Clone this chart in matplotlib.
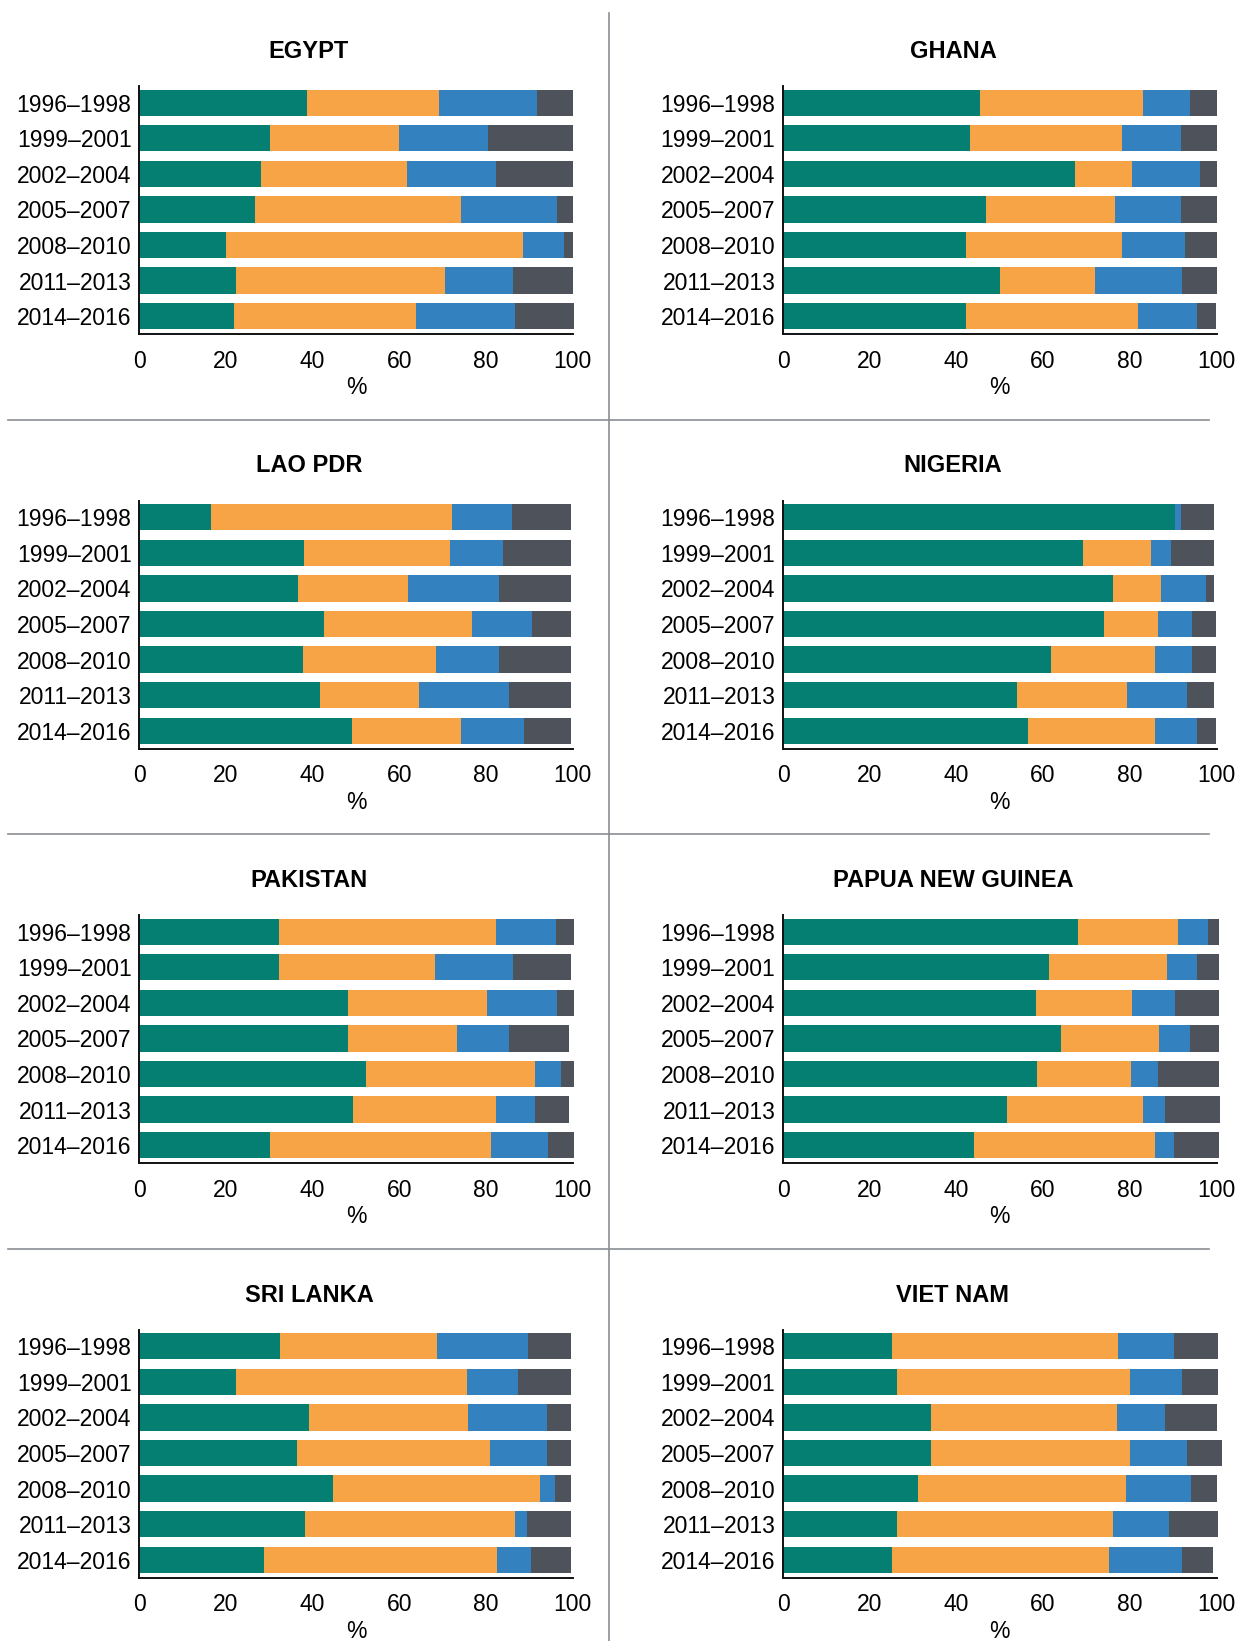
import matplotlib
matplotlib.use("Agg")
import matplotlib.pyplot as plt
from matplotlib import font_manager
from matplotlib.lines import Line2D

# ---------------- data ----------------
periods = ["1996–1998", "1999–2001", "2002–2004", "2005–2007",
           "2008–2010", "2011–2013", "2014–2016"]
countries = ["EGYPT", "GHANA", "LAO PDR", "NIGERIA",
             "PAKISTAN", "PAPUA NEW GUINEA", "SRI LANKA", "VIET NAM"]
x_ticks = [0, 20, 40, 60, 80, 100]

# each country: four stacked segments (teal, orange, blue, dark grey), % per period
egypt = [[38.7, 30.2, 28.1, 26.7, 20.1, 22.4, 21.9],
         [30.5, 29.7, 33.7, 47.6, 68.5, 48.1, 42.0],
         [22.6, 20.6, 20.5, 22.1, 9.4, 15.7, 22.8],
         [8.2, 19.5, 17.7, 3.6, 2.0, 13.8, 13.6]]
ghana = [[45.5, 43.2, 67.4, 46.9, 42.3, 50.0, 42.1],
         [37.6, 35.1, 13.2, 29.7, 36.0, 22.0, 39.9],
         [10.9, 13.6, 15.5, 15.3, 14.5, 20.1, 13.4],
         [6.0, 8.1, 3.9, 8.1, 7.2, 7.9, 4.4]]
lao = [[16.6, 38.0, 36.7, 42.6, 37.8, 41.7, 49.1],
       [55.6, 33.7, 25.3, 34.2, 30.7, 22.9, 25.2],
       [13.8, 12.2, 21.0, 13.8, 14.5, 20.7, 14.5],
       [13.6, 15.7, 16.6, 9.0, 16.6, 14.3, 10.8]]
nigeria = [[90.5, 69.2, 76.1, 74.1, 61.8, 53.9, 56.5],
           [0.0, 15.7, 11.2, 12.5, 23.9, 25.5, 29.2],
           [1.4, 4.5, 10.2, 7.8, 8.7, 13.9, 9.9],
           [7.6, 10.1, 2.0, 5.4, 5.4, 6.2, 4.2]]
pakistan = [[32.3, 32.3, 48.2, 48.2, 52.4, 49.4, 30.2],
            [50.0, 35.9, 32.1, 25.2, 38.9, 32.9, 51.0],
            [13.9, 18.0, 16.1, 11.9, 6.1, 9.0, 13.1],
            [4.2, 13.3, 4.0, 13.9, 3.0, 7.9, 6.1]]
png = [[68.0, 61.3, 58.3, 64.1, 58.6, 51.6, 44.0],
       [23.2, 27.2, 22.3, 22.7, 21.7, 31.5, 41.7],
       [6.9, 6.9, 9.9, 7.2, 6.3, 5.1, 4.5],
       [2.4, 5.1, 10.0, 6.5, 13.9, 12.5, 10.3]]
sri_lanka = [[32.5, 22.4, 39.1, 36.4, 44.7, 38.2, 28.8],
             [36.2, 53.2, 36.8, 44.5, 47.8, 48.4, 53.8],
             [21.0, 11.8, 18.2, 13.2, 3.5, 2.9, 7.8],
             [9.9, 12.2, 5.6, 5.6, 3.6, 10.1, 9.2]]
viet_nam = [[25.2, 26.3, 34.2, 34.2, 31.2, 26.3, 25.2],
            [52.1, 53.8, 42.8, 45.9, 48.0, 49.8, 50.0],
            [12.9, 12.0, 11.2, 13.2, 15.0, 13.0, 16.9],
            [10.1, 8.2, 11.8, 7.9, 5.8, 11.2, 7.0]]
country_data = [egypt, ghana, lao, nigeria, pakistan, png, sri_lanka, viet_nam]

colors = ["#047F71", "#F6A445", "#3381BF", "#4E525A"]

# ---------------- fonts ----------------
names = {f.name for f in font_manager.fontManager.ttflist}
base_font = "Liberation Sans" if "Liberation Sans" in names else "DejaVu Sans"
if "Liberation Sans Narrow" in names:
    title_font, title_size = "Liberation Sans Narrow", 21
else:
    title_font, title_size = base_font, 17
plt.rcParams["font.family"] = [base_font, "DejaVu Sans"]

# ---------------- layout ----------------
W, H = 1239, 1641
fig = plt.figure(figsize=(W / 100, H / 100), dpi=100)
fig.patch.set_facecolor("white")

col_left = [139.2, 783.0]
ax_w = 433.5
row_top0, row_pitch, ax_h = 86.0, 414.5, 248.0
title_x = [309, 953]
title_y0 = 51.5

for k, (name, data) in enumerate(zip(countries, country_data)):
    row, col = divmod(k, 2)
    top = row_top0 + row * row_pitch
    ax = fig.add_axes([col_left[col] / W, 1 - (top + ax_h) / H, ax_w / W, ax_h / H])
    ypos = list(range(len(periods)))
    acc = [0.0] * len(periods)
    for seg, c in zip(data, colors):
        ax.barh(ypos, seg, left=acc, height=0.74, color=c, linewidth=0, clip_on=False)
        acc = [a + v for a, v in zip(acc, seg)]
    ax.set_xlim(0, 100)
    ax.set_ylim(6.5, -0.47)
    ax.set_yticks(ypos, periods)
    ax.set_xticks(x_ticks)
    ax.tick_params(axis="y", length=0, labelsize=16.5, pad=5.5)
    ax.tick_params(axis="x", length=0, labelsize=16.5, pad=11.5)
    for s in ["top", "right"]:
        ax.spines[s].set_visible(False)
    for s in ["left", "bottom"]:
        ax.spines[s].set_linewidth(1.4)
        ax.spines[s].set_color("#111111")
    ax.set_xlabel("%", fontsize=16.5, labelpad=2.5)
    fig.text(title_x[col] / W, 1 - (title_y0 + row * row_pitch) / H, name,
             ha="center", va="center", fontsize=title_size, fontweight="bold",
             family=[title_font, "DejaVu Sans"])

# separators
sep_color = "#8A8D92"
for r in range(3):
    y = 1 - (419.6 + r * row_pitch) / H
    fig.add_artist(Line2D([8 / W, 1209 / W], [y, y], color=sep_color, lw=1.2))
fig.add_artist(Line2D([609 / W, 609 / W], [1 - 12.5 / H, 0], color=sep_color, lw=1.2))

fig.savefig("out.png", dpi=100, facecolor="white")
